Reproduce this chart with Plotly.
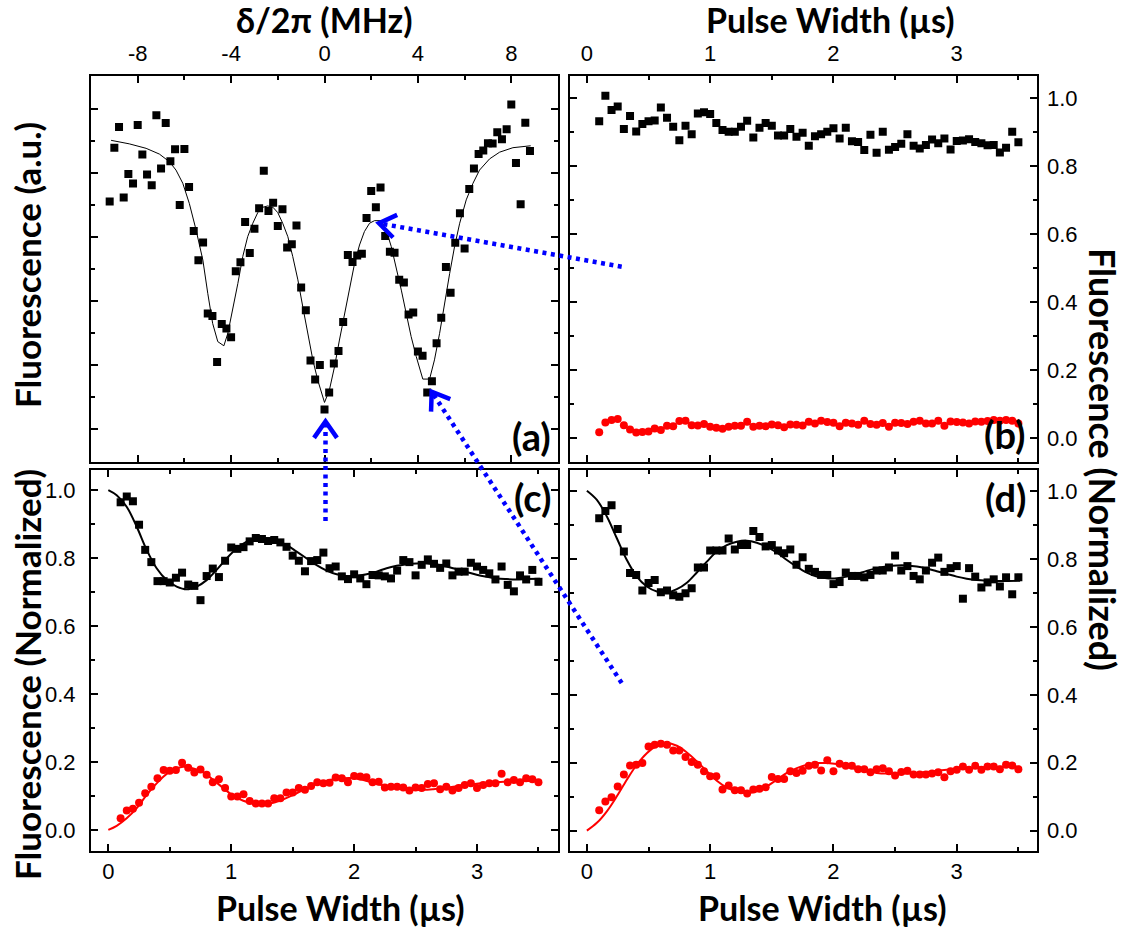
import math
import plotly.graph_objects as go

# ---------------- data ----------------
# (a) fluorescence vs detuning (MHz), arbitrary units
a_detuning = [-9.2, -9.0, -8.8, -8.6, -8.4, -8.2, -8.0, -7.8, -7.6, -7.4,
              -7.2, -7.0, -6.8, -6.6, -6.4, -6.2, -6.0, -5.8, -5.6, -5.4,
              -5.2, -5.0, -4.8, -4.6, -4.4, -4.2, -4.0, -3.8, -3.6, -3.4,
              -3.2, -3.0, -2.8, -2.6, -2.4, -2.2, -2.0, -1.8, -1.6, -1.4,
              -1.2, -1.0, -0.8, -0.6, -0.4, -0.2, 0.0, 0.2, 0.4, 0.6,
              0.8, 1.0, 1.2, 1.4, 1.6, 1.8, 2.0, 2.2, 2.4, 2.6,
              2.8, 3.0, 3.2, 3.4, 3.6, 3.8, 4.0, 4.2, 4.4, 4.6,
              4.8, 5.0, 5.2, 5.4, 5.6, 5.8, 6.0, 6.2, 6.4, 6.6,
              6.8, 7.0, 7.2, 7.4, 7.6, 7.8, 8.0, 8.2, 8.4, 8.6, 8.8]
a_fluor = [0.710, 0.878, 0.943, 0.722, 0.796, 0.766, 0.949, 0.857, 0.794, 0.761,
           0.979, 0.813, 0.955, 0.836, 0.873, 0.699, 0.874, 0.755, 0.618, 0.526,
           0.582, 0.360, 0.352, 0.208, 0.327, 0.313, 0.286, 0.492, 0.520, 0.646,
           0.549, 0.625, 0.689, 0.806, 0.680, 0.706, 0.633, 0.686, 0.566, 0.576,
           0.635, 0.441, 0.370, 0.213, 0.154, 0.199, 0.060, 0.113, 0.204, 0.243,
           0.333, 0.543, 0.521, 0.541, 0.547, 0.658, 0.743, 0.692, 0.754, 0.602,
           0.553, 0.550, 0.465, 0.457, 0.357, 0.363, 0.241, 0.228, 0.113, 0.148,
           0.267, 0.347, 0.505, 0.425, 0.581, 0.673, 0.563, 0.749, 0.813, 0.858,
           0.869, 0.892, 0.891, 0.926, 0.904, 0.936, 1.013, 0.830, 0.701, 0.956, 0.868]
a_fit_x = [-9.14, -8.36, -7.64, -7.07, -6.64, -6.36, -6.07, -5.79, -5.50, -5.21,
           -5.00, -4.79, -4.57, -4.31, -4.14, -3.93, -3.71, -3.50, -3.29, -3.07,
           -2.86, -2.64, -2.43, -2.21, -2.00, -1.79, -1.57, -1.36, -1.14, -0.93,
           -0.71, -0.50, -0.29, 0.00, 0.21, 0.43, 0.64, 0.86, 1.07, 1.29,
           1.50, 1.71, 1.93, 2.14, 2.43, 2.64, 2.86, 3.07, 3.29, 3.50,
           3.71, 3.93, 4.21, 4.50, 4.71, 4.93, 5.14, 5.36, 5.57, 5.79,
           6.07, 6.36, 6.64, 7.07, 7.50, 8.07, 8.83]
a_fit_y = [0.901, 0.890, 0.876, 0.858, 0.834, 0.808, 0.767, 0.704, 0.621, 0.527,
           0.423, 0.329, 0.272, 0.259, 0.298, 0.371, 0.454, 0.538, 0.600, 0.642,
           0.675, 0.692, 0.696, 0.692, 0.675, 0.642, 0.600, 0.538, 0.465, 0.381,
           0.298, 0.215, 0.152, 0.082, 0.121, 0.194, 0.277, 0.360, 0.444, 0.517,
           0.574, 0.616, 0.642, 0.650, 0.650, 0.621, 0.569, 0.506, 0.433, 0.360,
           0.288, 0.225, 0.155, 0.155, 0.215, 0.298, 0.392, 0.485, 0.569, 0.642,
           0.715, 0.767, 0.808, 0.843, 0.864, 0.878, 0.884]

# pulse widths (us) shared by panels (b), (c), (d)
pulse_width = [0.10, 0.15, 0.20, 0.25, 0.30, 0.35, 0.40, 0.45, 0.50, 0.55,
               0.60, 0.65, 0.70, 0.75, 0.80, 0.85, 0.90, 0.95, 1.00, 1.05,
               1.10, 1.15, 1.20, 1.25, 1.30, 1.35, 1.40, 1.45, 1.50, 1.55,
               1.60, 1.65, 1.70, 1.75, 1.80, 1.85, 1.90, 1.95, 2.00, 2.05,
               2.10, 2.15, 2.20, 2.25, 2.30, 2.35, 2.40, 2.45, 2.50, 2.55,
               2.60, 2.65, 2.70, 2.75, 2.80, 2.85, 2.90, 2.95, 3.00, 3.05,
               3.10, 3.15, 3.20, 3.25, 3.30, 3.35, 3.40, 3.45, 3.50]

b_black = [0.933, 1.008, 0.966, 0.976, 0.910, 0.948, 0.903, 0.925, 0.933, 0.935,
           0.973, 0.943, 0.917, 0.877, 0.920, 0.895, 0.956, 0.959, 0.954, 0.928,
           0.907, 0.902, 0.902, 0.917, 0.934, 0.885, 0.914, 0.928, 0.920, 0.891,
           0.891, 0.910, 0.887, 0.899, 0.861, 0.889, 0.895, 0.902, 0.912, 0.882,
           0.914, 0.874, 0.872, 0.848, 0.893, 0.840, 0.902, 0.849, 0.857, 0.867,
           0.895, 0.861, 0.853, 0.863, 0.879, 0.868, 0.882, 0.850, 0.875, 0.876,
           0.880, 0.872, 0.868, 0.862, 0.863, 0.841, 0.855, 0.902, 0.871]
b_red = [0.018, 0.047, 0.054, 0.057, 0.039, 0.026, 0.017, 0.019, 0.020, 0.029,
         0.025, 0.037, 0.036, 0.051, 0.052, 0.039, 0.038, 0.042, 0.034, 0.031,
         0.028, 0.034, 0.037, 0.037, 0.049, 0.034, 0.037, 0.036, 0.041, 0.039,
         0.033, 0.041, 0.040, 0.038, 0.049, 0.044, 0.052, 0.048, 0.046, 0.036,
         0.046, 0.044, 0.040, 0.052, 0.042, 0.040, 0.045, 0.034, 0.046, 0.045,
         0.042, 0.049, 0.052, 0.044, 0.044, 0.052, 0.037, 0.050, 0.048, 0.047,
         0.044, 0.050, 0.049, 0.051, 0.054, 0.052, 0.054, 0.052, 0.044]

c_black = [0.964, 0.981, 0.967, 0.898, 0.824, 0.788, 0.732, 0.732, 0.728, 0.742,
           0.757, 0.722, 0.718, 0.676, 0.747, 0.769, 0.744, 0.792, 0.831, 0.827,
           0.832, 0.849, 0.859, 0.856, 0.850, 0.853, 0.846, 0.833, 0.807, 0.792,
           0.761, 0.791, 0.794, 0.816, 0.770, 0.775, 0.746, 0.738, 0.752, 0.740,
           0.723, 0.750, 0.749, 0.746, 0.740, 0.763, 0.794, 0.788, 0.749, 0.780,
           0.796, 0.783, 0.771, 0.784, 0.749, 0.760, 0.760, 0.786, 0.775, 0.765,
           0.755, 0.737, 0.775, 0.721, 0.702, 0.749, 0.737, 0.765, 0.730]
c_red = [0.034, 0.057, 0.062, 0.080, 0.108, 0.127, 0.152, 0.176, 0.174, 0.176,
         0.198, 0.183, 0.169, 0.178, 0.162, 0.140, 0.149, 0.123, 0.098, 0.098,
         0.105, 0.085, 0.078, 0.078, 0.078, 0.093, 0.093, 0.110, 0.110, 0.123,
         0.118, 0.129, 0.140, 0.137, 0.139, 0.154, 0.152, 0.140, 0.159, 0.157,
         0.155, 0.140, 0.142, 0.125, 0.127, 0.127, 0.125, 0.116, 0.125, 0.123,
         0.135, 0.137, 0.120, 0.127, 0.116, 0.123, 0.132, 0.137, 0.123, 0.132,
         0.137, 0.137, 0.165, 0.140, 0.147, 0.140, 0.152, 0.149, 0.140]
c_fit_black_x = [0.000, 0.068, 0.149, 0.231, 0.312, 0.393, 0.475, 0.556, 0.637, 0.719,
                 0.800, 0.881, 0.963, 1.044, 1.126, 1.207, 1.288, 1.370, 1.451, 1.532,
                 1.614, 1.695, 1.776, 1.858, 1.939, 2.021, 2.102, 2.183, 2.265, 2.346,
                 2.427, 2.509, 2.590, 2.672, 2.753, 2.834, 2.916, 2.997, 3.078, 3.160,
                 3.241, 3.322, 3.404, 3.512]
c_fit_black_y = [1.000, 0.985, 0.951, 0.892, 0.824, 0.770, 0.735, 0.716, 0.708, 0.716,
                 0.735, 0.765, 0.799, 0.828, 0.848, 0.858, 0.858, 0.851, 0.838, 0.819,
                 0.799, 0.779, 0.763, 0.752, 0.747, 0.747, 0.752, 0.760, 0.770, 0.777,
                 0.782, 0.784, 0.784, 0.781, 0.775, 0.767, 0.759, 0.751, 0.745, 0.740,
                 0.738, 0.737, 0.738, 0.739]
c_fit_red_x = [0.000, 0.068, 0.149, 0.231, 0.312, 0.393, 0.475, 0.556, 0.610, 0.692,
               0.773, 0.854, 0.936, 1.017, 1.098, 1.180, 1.261, 1.343, 1.424, 1.505,
               1.587, 1.668, 1.749, 1.831, 1.912, 1.993, 2.075, 2.156, 2.238, 2.319,
               2.400, 2.482, 2.563, 2.644, 2.726, 2.807, 2.889, 2.970, 3.051, 3.133,
               3.214, 3.295, 3.404, 3.512]
c_fit_red_y = [0.000, 0.012, 0.034, 0.064, 0.103, 0.137, 0.165, 0.181, 0.186, 0.181,
               0.169, 0.147, 0.123, 0.100, 0.086, 0.078, 0.076, 0.080, 0.090, 0.103,
               0.118, 0.132, 0.142, 0.149, 0.152, 0.152, 0.147, 0.139, 0.131, 0.125,
               0.120, 0.118, 0.118, 0.120, 0.123, 0.127, 0.132, 0.135, 0.138, 0.140,
               0.142, 0.143, 0.144, 0.144]

d_black = [0.920, 0.941, 0.958, 0.888, 0.822, 0.759, 0.753, 0.707, 0.729, 0.738,
           0.702, 0.707, 0.693, 0.689, 0.699, 0.714, 0.775, 0.775, 0.825, 0.825,
           0.825, 0.860, 0.828, 0.841, 0.841, 0.882, 0.865, 0.837, 0.841, 0.825,
           0.817, 0.828, 0.783, 0.805, 0.771, 0.762, 0.753, 0.753, 0.726, 0.732,
           0.760, 0.750, 0.750, 0.746, 0.753, 0.766, 0.766, 0.775, 0.810, 0.766,
           0.779, 0.750, 0.740, 0.766, 0.789, 0.804, 0.762, 0.773, 0.779, 0.683,
           0.773, 0.748, 0.716, 0.731, 0.740, 0.719, 0.746, 0.696, 0.746]
d_red = [0.060, 0.086, 0.098, 0.130, 0.165, 0.192, 0.194, 0.199, 0.248, 0.253,
         0.256, 0.253, 0.236, 0.236, 0.217, 0.202, 0.194, 0.175, 0.160, 0.160,
         0.121, 0.133, 0.119, 0.119, 0.109, 0.121, 0.123, 0.128, 0.158, 0.152,
         0.152, 0.175, 0.170, 0.176, 0.191, 0.194, 0.177, 0.207, 0.175, 0.197,
         0.191, 0.191, 0.181, 0.181, 0.172, 0.181, 0.184, 0.175, 0.162, 0.173,
         0.176, 0.165, 0.165, 0.165, 0.168, 0.172, 0.157, 0.175, 0.179, 0.189,
         0.179, 0.191, 0.179, 0.189, 0.189, 0.181, 0.194, 0.192, 0.181]
d_fit_x = [0.000, 0.081, 0.162, 0.243, 0.324, 0.405, 0.486, 0.568, 0.649, 0.730,
           0.811, 0.892, 0.973, 1.054, 1.135, 1.216, 1.297, 1.378, 1.459, 1.541,
           1.622, 1.703, 1.784, 1.865, 1.946, 2.027, 2.108, 2.189, 2.270, 2.351,
           2.432, 2.514, 2.595, 2.676, 2.757, 2.838, 2.919, 3.000, 3.081, 3.162,
           3.243, 3.351, 3.514]
d_fit_black_y = [1.001, 0.974, 0.925, 0.861, 0.797, 0.748, 0.719, 0.704, 0.701, 0.711,
                 0.730, 0.760, 0.792, 0.822, 0.841, 0.851, 0.854, 0.848, 0.836, 0.819,
                 0.797, 0.777, 0.760, 0.748, 0.743, 0.743, 0.748, 0.756, 0.765, 0.773,
                 0.778, 0.781, 0.781, 0.778, 0.772, 0.764, 0.756, 0.748, 0.742, 0.738,
                 0.736, 0.735, 0.736]
d_fit_red_y = [0.000, 0.023, 0.057, 0.101, 0.150, 0.194, 0.228, 0.250, 0.258, 0.250,
               0.230, 0.204, 0.175, 0.147, 0.127, 0.116, 0.111, 0.116, 0.130, 0.150,
               0.170, 0.184, 0.194, 0.199, 0.199, 0.196, 0.189, 0.181, 0.175, 0.170,
               0.168, 0.168, 0.168, 0.170, 0.173, 0.176, 0.179, 0.182, 0.184, 0.186,
               0.187, 0.188, 0.188]

det_tickvals = [-8, -4, 0, 4, 8]
det_ticktext = ["-8", "-4", "0", "4", "8"]
pw_tickvals = [0, 1, 2, 3]
norm_tickvals = [0.0, 0.2, 0.4, 0.6, 0.8, 1.0]

# ---------------- layout helpers ----------------
W, H = 1125, 930


def fx(p):
    return p / W


def fy(p):
    return 1 - p / H


LEFT_X = [fx(91), fx(558)]
RIGHT_X = [fx(569.5), fx(1036.5)]
TOP_Y = [fy(461.5), fy(76)]
BOT_Y = [fy(851), fy(470)]

TICKFONT = dict(family="Liberation Sans, Arial, sans-serif", size=22, color="black")
TITLEFONT = "Lato, Open Sans, sans-serif"


def axis(**kw):
    base = dict(showline=True, linecolor="black", linewidth=2, mirror="ticks",
                ticks="inside", ticklen=7, tickwidth=1.5, tickcolor="black",
                showgrid=False, zeroline=False, tickfont=TICKFONT,
                ticklabelstandoff=4, automargin=False)
    base.update(kw)
    return base


def minor(**kw):
    m = dict(ticks="inside", ticklen=4, tickwidth=1.5, tickcolor="black", showgrid=False)
    m.update(kw)
    return m


fig = go.Figure()

sq = dict(symbol="square", size=8, color="black")
dot = dict(symbol="circle", size=8, color="red")

# (a)
fig.add_trace(go.Scatter(x=a_fit_x, y=a_fit_y, mode="lines", line=dict(color="black", width=1),
                         xaxis="x", yaxis="y"))
fig.add_trace(go.Scatter(x=a_detuning, y=a_fluor, mode="markers", marker=sq, xaxis="x", yaxis="y"))
# (b)
fig.add_trace(go.Scatter(x=pulse_width, y=b_black, mode="markers", marker=sq, xaxis="x2", yaxis="y2"))
fig.add_trace(go.Scatter(x=pulse_width, y=b_red, mode="markers", marker=dot, xaxis="x2", yaxis="y2"))
# (c)
fig.add_trace(go.Scatter(x=c_fit_black_x, y=c_fit_black_y, mode="lines", line=dict(color="black", width=2, shape="spline"),
                         xaxis="x3", yaxis="y3"))
fig.add_trace(go.Scatter(x=c_fit_red_x, y=c_fit_red_y, mode="lines", line=dict(color="red", width=2, shape="spline"),
                         xaxis="x3", yaxis="y3"))
fig.add_trace(go.Scatter(x=pulse_width, y=c_black, mode="markers", marker=sq, xaxis="x3", yaxis="y3"))
fig.add_trace(go.Scatter(x=pulse_width, y=c_red, mode="markers", marker=dot, xaxis="x3", yaxis="y3"))
# (d)
fig.add_trace(go.Scatter(x=d_fit_x, y=d_fit_black_y, mode="lines", line=dict(color="black", width=2, shape="spline"),
                         xaxis="x4", yaxis="y4"))
fig.add_trace(go.Scatter(x=d_fit_x, y=d_fit_red_y, mode="lines", line=dict(color="red", width=2, shape="spline"),
                         xaxis="x4", yaxis="y4"))
fig.add_trace(go.Scatter(x=pulse_width, y=d_black, mode="markers", marker=sq, xaxis="x4", yaxis="y4"))
fig.add_trace(go.Scatter(x=pulse_width, y=d_red, mode="markers", marker=dot, xaxis="x4", yaxis="y4"))

fig.update_layout(
    width=W, height=H, margin=dict(l=0, r=0, t=0, b=0, autoexpand=False),
    paper_bgcolor="white", plot_bgcolor="white", showlegend=False,
    xaxis=axis(domain=LEFT_X, anchor="y", side="top", range=[-10, 10],
               tickmode="array", tickvals=det_tickvals, ticktext=det_ticktext,
               minor=minor(tickmode="array", tickvals=[-10, -6, -2, 2, 6, 10])),
    yaxis=axis(domain=TOP_Y, anchor="x", range=[-0.1025, 1.102], dtick=0.2, tick0=0,
               showticklabels=False, minor=minor(dtick=0.1, tick0=0)),
    xaxis2=axis(domain=RIGHT_X, anchor="y2", side="top", range=[-0.141, 3.647],
                tickmode="array", tickvals=pw_tickvals, minor=minor(dtick=0.5, tick0=0)),
    yaxis2=axis(domain=TOP_Y, anchor="x2", side="right", range=[-0.068, 1.066],
                tickmode="array", tickvals=norm_tickvals, tickformat=".1f",
                ticklabelstandoff=4, minor=minor(dtick=0.1, tick0=0)),
    xaxis3=axis(domain=LEFT_X, anchor="y3", side="bottom", range=[-0.141, 3.659],
                tickmode="array", tickvals=pw_tickvals, ticklabelstandoff=0,
                minor=minor(dtick=0.5, tick0=0)),
    yaxis3=axis(domain=BOT_Y, anchor="x3", side="left", range=[-0.062, 1.059],
                tickmode="array", tickvals=norm_tickvals, tickformat=".1f",
                ticklabelstandoff=9, minor=minor(dtick=0.1, tick0=0)),
    xaxis4=axis(domain=RIGHT_X, anchor="y4", side="bottom", range=[-0.141, 3.647],
                tickmode="array", tickvals=pw_tickvals, ticklabelstandoff=0,
                minor=minor(dtick=0.5, tick0=0)),
    yaxis4=axis(domain=BOT_Y, anchor="x4", side="right", range=[-0.060, 1.062],
                tickmode="array", tickvals=norm_tickvals, tickformat=".1f",
                ticklabelstandoff=4, minor=minor(dtick=0.1, tick0=0)),
)

# ---------------- text ----------------
def label(text, px, py, size, angle=0):
    fig.add_annotation(text=text, x=fx(px), y=fy(py), xref="paper", yref="paper",
                       showarrow=False, textangle=angle, xanchor="center", yanchor="middle",
                       font=dict(family=TITLEFONT, size=size, color="black"))


label("<b>δ/2π (MHz)</b>", 325, 20, 34)
label("<b>Pulse Width (µs)</b>", 830, 20, 34)
label("<b>Pulse Width (µs)</b>", 340, 907, 34)
label("<b>Pulse Width (µs)</b>", 822, 907, 34)
label("<b>Fluorescence (a.u.)</b>", 27, 265, 35, -90)
label("<b>Fluorescence (Normalized)</b>", 27, 675, 35, -90)
label("<b>Fluorescence (Normalized)</b>", 1103, 459, 36, 90)
label("<b>(a)</b>", 531, 436, 38)
label("<b>(b)</b>", 1004, 434, 38)
label("<b>(c)</b>", 532, 497, 38)
label("<b>(d)</b>", 1005, 497, 38)

# ---------------- blue dotted arrows ----------------
BLUE = "#0000FF"
arrows = [((621.7, 266.7), (379.0, 223.3)),
          ((325.5, 521.0), (325.5, 421.5)),
          ((621.7, 683.0), (431.7, 391.7))]
for (tx, ty), (hx, hy) in arrows:
    fig.add_shape(type="line", xref="paper", yref="paper",
                  x0=fx(tx), y0=fy(ty), x1=fx(hx), y1=fy(hy),
                  line=dict(color=BLUE, width=4.5, dash="4px,4.5px"), layer="above")
    ang = math.atan2(ty - hy, tx - hx)
    arm = 20
    pts = []
    for da in (math.radians(35), -math.radians(35)):
        pts.append((hx + arm * math.cos(ang + da), hy + arm * math.sin(ang + da)))
    path = (f"M {fx(pts[0][0])},{fy(pts[0][1])} L {fx(hx)},{fy(hy)} "
            f"L {fx(pts[1][0])},{fy(pts[1][1])}")
    fig.add_shape(type="path", xref="paper", yref="paper", path=path,
                  line=dict(color=BLUE, width=4.5), layer="above")

fig.write_html("out.html", config={"displayModeBar": False},
               post_script="document.body.style.margin='0px';")
